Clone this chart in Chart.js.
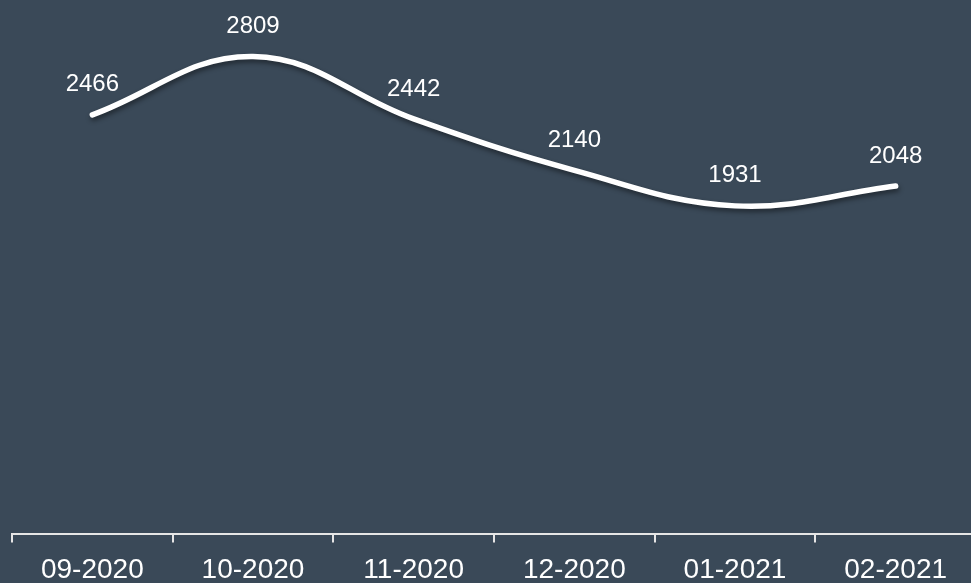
<!DOCTYPE html>
<html>
<head>
<meta charset="utf-8">
<script src="https://cdn.jsdelivr.net/npm/chart.js@4.4.1/dist/chart.umd.min.js"></script>
<style>
  html, body { margin: 0; padding: 0; background: #3a4958; overflow: hidden; }
  #wrap { width: 971px; height: 583px; overflow: hidden; position: relative; }
  canvas { position: absolute; left: 0; top: 0; }
</style>
</head>
<body>
<div id="wrap"><canvas id="visits" width="986" height="598"></canvas></div>
<script>
const months = ['09-2020', '10-2020', '11-2020', '12-2020', '01-2021', '02-2021'];
const counts = [2466, 2809, 2442, 2140, 1931, 2048];

// draws the number above each point (no datalabels plugin available)
const pointLabels = {
    id: 'pointLabels',
    afterDatasetsDraw(chart) {
        const ctx = chart.ctx;
        const meta = chart.getDatasetMeta(0);
        ctx.save();
        ctx.fillStyle = '#ffffff';
        ctx.font = '24px "Liberation Sans", Arial, sans-serif';
        ctx.textAlign = 'center';
        ctx.textBaseline = 'middle';
        meta.data.forEach((pt, i) => {
            ctx.fillText(String(counts[i]), pt.x, pt.y - 30);
        });
        ctx.restore();
    }
};

// soft shadow under the line
const lineShadow = {
    id: 'lineShadow',
    beforeDatasetDraw(chart) {
        const ctx = chart.ctx;
        ctx.save();
        ctx.shadowColor = 'rgba(0,0,0,0.45)';
        ctx.shadowBlur = 5;
        ctx.shadowOffsetX = 1;
        ctx.shadowOffsetY = 3;
    },
    afterDatasetDraw(chart) {
        chart.ctx.restore();
    }
};

new Chart(document.getElementById('visits'), {
    type: 'line',
    data: {
        labels: months,
        datasets: [{
            data: counts,
            borderColor: '#ffffff',
            borderWidth: 5.5,
            borderCapStyle: 'round',
            tension: 0.4,
            pointRadius: 0,
            fill: false
        }]
    },
    options: {
        responsive: false,
        animation: false,
        layout: { padding: { left: 12, right: 10, top: 24, bottom: 0 } },
        plugins: { legend: { display: false }, tooltip: { enabled: false } },
        scales: {
            y: { display: false, min: 0, max: 3000 },
            x: {
                offset: true,
                border: { color: '#e6e6e6', width: 2 },
                grid: { offset: true, drawOnChartArea: false, drawTicks: true, tickLength: 8, color: '#e6e6e6', lineWidth: 2 },
                ticks: {
                    color: '#ffffff',
                    padding: 11,
                    maxRotation: 0,
                    font: { family: '"Liberation Sans", Arial, sans-serif', size: 28 }
                }
            }
        }
    },
    plugins: [lineShadow, pointLabels]
});
</script>
</body>
</html>
